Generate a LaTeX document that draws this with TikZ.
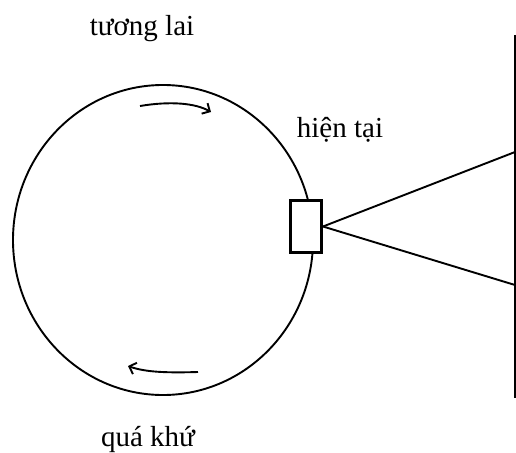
\documentclass[tikz,border=0pt]{standalone}
\usepackage{fontspec}
\setmainfont{Liberation Serif}
\usetikzlibrary{arrows.meta, positioning}

\begin{document}
\begin{tikzpicture}[
    x=1pt, y=-1pt,
    line width=1.9pt,
    every node/.style={font=\fontsize{29}{32}\selectfont},
    timelabel/.style={anchor=base, inner sep=0pt},
    nowbox/.style={draw, fill=white, line width=3pt, inner sep=0pt,
        minimum width=31pt, minimum height=52pt},
    flow/.style={-{Straight Barb[length=6pt, width=12pt]}},
]
    \useasboundingbox (0,0) rectangle (516,452);

    % Circle of time
    \draw (163,240) ellipse [x radius=150, y radius=155];

    % Direction arrows
    \coordinate (fstart) at (140,106);
    \coordinate (fend) at (211,112);
    \draw[flow] (fstart) .. controls (170,101) and (195,103) .. (fend);
    \coordinate (pstart) at (198,372);
    \coordinate (pend) at (128,366);
    \draw[flow] (pstart) .. controls (165,373) and (145,372) .. (pend);

    % Present and screen
    \node[nowbox] (now) at (306,226.5) {};
    \coordinate (scrtop) at (515,35);
    \coordinate (scrbot) at (515,398);
    \draw (scrtop) -- (scrbot);
    \coordinate (rayhi) at (515,152);
    \coordinate (raylo) at (515,285);
    \draw (now.east) -- (rayhi);
    \draw (now.east) -- (raylo);

    % Labels
    \node[timelabel] (future) at (142,36) {tương lai};
    \node[timelabel] (present) at (340,137) {hiện tại};
    \node[timelabel] (past) at (148,446) {quá khứ};
\end{tikzpicture}
\end{document}
